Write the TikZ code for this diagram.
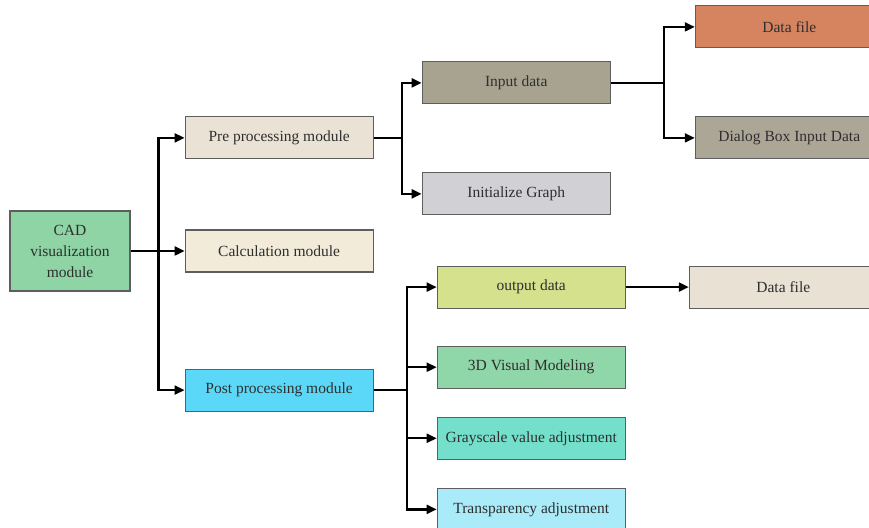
\documentclass[tikz,border=0pt]{standalone}
\usepackage{fontspec}
\setmainfont{Liberation Serif}
\usepackage{xcolor}
\usepackage{tikz}
\usetikzlibrary{positioning,arrows.meta,calc}
\definecolor{cadgreen}{HTML}{8ED4A5}
\definecolor{prebeige}{HTML}{EAE3D5}
\definecolor{calccream}{HTML}{F3EBDA}
\definecolor{postcyan}{HTML}{5BD8F7}
\definecolor{inputtaupe}{HTML}{A8A391}
\definecolor{initgray}{HTML}{D1D1D5}
\definecolor{fileorange}{HTML}{D5845F}
\definecolor{dialogtaupe}{HTML}{ABA695}
\definecolor{outlime}{HTML}{D6E18D}
\definecolor{filebeige}{HTML}{E8E1D4}
\definecolor{modelgreen}{HTML}{8FD6A8}
\definecolor{grayteal}{HTML}{74E0CB}
\definecolor{transpcyan}{HTML}{A9EBF8}
\definecolor{edgegray}{HTML}{5E5E5E}
\definecolor{textgray}{HTML}{2E2E2E}
\tikzset{
    module/.style={
        draw=edgegray,
        line width=1.1pt,
        minimum width=188pt,
        minimum height=42pt,
        inner sep=0pt,
        align=center,
        text=textgray,
        font=\fontsize{15.5}{21}\selectfont
    },
    root/.style={
        module,
        minimum width=120pt,
        minimum height=80pt
    },
    flowline/.style={
        draw,
        line width=2.2pt,
        -{Triangle[length=10pt,width=9pt]}
    },
    trunk/.style={
        draw,
        line width=2.2pt
    }
}
\begin{document}
\begin{tikzpicture}[x=1pt,y=1pt]
    \useasboundingbox (0,0) rectangle (869,527);
    \clip (0,0) rectangle (869,527);

    \node[root, fill=cadgreen] (cad) at (70,276) {CAD\\visualization\\module};
    \node[module, fill=calccream, right=54pt of cad] (calc) {Calculation module};
    \node[module, fill=prebeige, above=70pt of calc] (pre) {Pre processing module};
    \node[module, fill=postcyan, below=96pt of calc] (post) {Post processing module};

    \node[module, fill=inputtaupe, right=48pt of pre, yshift=55pt] (input) {Input data};
    \node[module, fill=initgray, right=48pt of pre, yshift=-56pt] (init) {Initialize Graph};
    \node[module, fill=fileorange, right=84pt of input, yshift=56pt] (datafile) {Data file};
    \node[module, fill=dialogtaupe, right=84pt of input, yshift=-55pt] (dialog) {Dialog Box Input Data};

    \node[module, fill=outlime, right=63pt of post, yshift=103pt] (output) {output data};
    \node[module, fill=filebeige, right=63pt of output] (outfile) {Data file};
    \node[module, fill=modelgreen, below=37pt of output] (model) {3D Visual Modeling};
    \node[module, fill=grayteal, below=28pt of model] (grayadj) {Grayscale value adjustment};
    \node[module, fill=transpcyan, below=28pt of grayadj] (transp) {Transparency adjustment};

    \coordinate (cadfork) at ($(cad.east)+(28pt,0)$);
    \coordinate (prefork) at ($(pre.east)+(28pt,0)$);
    \coordinate (inputfork) at ($(input.east)+(53pt,0)$);
    \coordinate (postfork) at ($(post.east)+(33pt,0)$);

    \path[trunk] (cad.east) -- (cadfork);
    \path[flowline] (cadfork) |- (pre.west);
    \path[flowline] (cadfork) -- (calc.west);
    \path[flowline] (cadfork) |- (post.west);

    \path[trunk] (pre.east) -- (prefork);
    \path[flowline] (prefork) |- (input.west);
    \path[flowline] (prefork) |- (init.west);

    \path[trunk] (input.east) -- (inputfork);
    \path[flowline] (inputfork) |- (datafile.west);
    \path[flowline] (inputfork) |- (dialog.west);

    \path[trunk] (post.east) -- (postfork);
    \path[flowline] (postfork) |- (output.west);
    \path[flowline] (postfork) |- (model.west);
    \path[flowline] (postfork) |- (grayadj.west);
    \path[flowline] (postfork) |- (transp.west);

    \path[flowline] (output) -- (outfile);
\end{tikzpicture}
\end{document}
